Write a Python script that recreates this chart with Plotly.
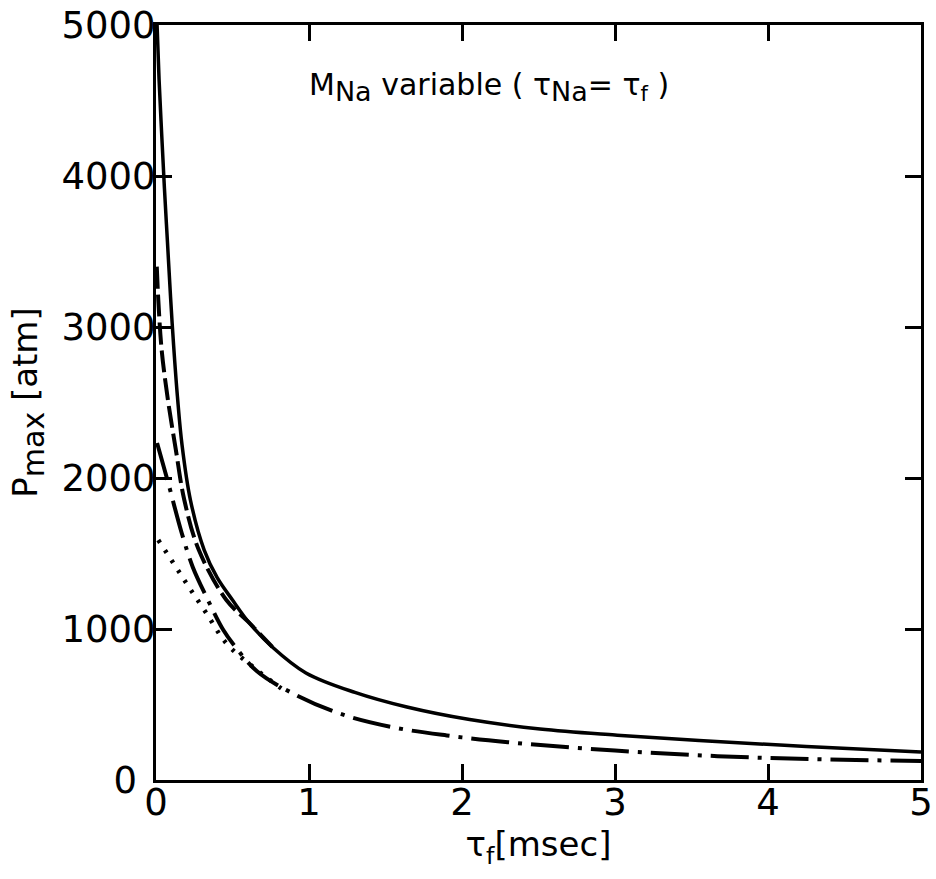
import plotly.graph_objects as go

# ---- data ----
solid_x = [0.007, 0.02, 0.037, 0.055, 0.075, 0.095, 0.115, 0.14, 0.17, 0.225, 0.315, 0.40, 0.50, 0.61, 0.76, 0.98, 1.30, 1.64, 2.05, 2.51, 3.00, 3.55, 4.25, 5.00]
solid_y = [5000, 4640, 4280, 3920, 3560, 3200, 2880, 2540, 2220, 1854, 1523, 1340, 1192, 1040, 881, 709, 580, 483, 400, 338, 298, 262, 222, 185]

dashed_x = [0.005, 0.015, 0.037, 0.078, 0.13, 0.185, 0.28, 0.46, 0.61, 0.76]
dashed_y = [3400, 3179, 2848, 2517, 2185, 1854, 1523, 1192, 1040, 881]

dashdot_x = [0.007, 0.08, 0.168, 0.24, 0.33, 0.44, 0.52, 0.66, 0.89, 1.20, 1.54, 1.90, 2.30, 3.00, 3.67, 4.30, 5.00]
dashdot_y = [2232, 1967, 1636, 1411, 1212, 993, 880, 720, 576, 440, 351, 295, 250, 195, 158, 138, 126]

dotted_x = [0.015, 0.124, 0.22, 0.33, 0.46, 0.66, 0.86]
dotted_y = [1589, 1420, 1270, 1104, 905, 728, 576]

x_ticks = [0, 1, 2, 3, 4, 5]
y_ticks = [0, 1000, 2000, 3000, 4000, 5000]
y_tick_text = ["0\u2002", "1000", "2000", "3000", "4000", "5000"]

FONT = "DejaVu Sans"

fig = go.Figure()
fig.add_trace(go.Scatter(x=dotted_x, y=dotted_y, mode="lines", line=dict(color="black", width=4.5, dash="3px,9px", shape="spline"), showlegend=False))
fig.add_trace(go.Scatter(x=dashdot_x, y=dashdot_y, mode="lines", line=dict(color="black", width=4, dash="38px,9px,4px,9px", shape="spline"), showlegend=False))
fig.add_trace(go.Scatter(x=dashed_x, y=dashed_y, mode="lines", line=dict(color="black", width=4, dash="22px,6px", shape="spline"), showlegend=False))
fig.add_trace(go.Scatter(x=solid_x, y=solid_y, mode="lines", line=dict(color="black", width=3.5, shape="spline"), showlegend=False))

fig.add_annotation(
    text="M<sub><span style='font-size:27px'>Na</span></sub> variable ( τ<sub><span style='font-size:27px'>Na</span></sub>= τ<sub>f</sub> )",
    xref="paper", yref="paper", x=0.197, y=0.918, xanchor="left", yanchor="middle",
    showarrow=False, font=dict(family=FONT, size=30, color="black"),
)

fig.update_xaxes(
    range=[0, 5], tickvals=x_ticks, ticktext=[str(v) for v in x_ticks],
    showline=True, linecolor="black", linewidth=3, mirror="ticks",
    ticks="inside", ticklen=16, tickwidth=2.5, tickcolor="black",
    showgrid=False, zeroline=False, automargin=False,
    tickfont=dict(family=FONT, size=37, color="black"), ticklabelstandoff=-12,
    ticklabeloverflow="allow",
    title=dict(text="τ<sub>f</sub>[msec]", font=dict(family=FONT, size=34, color="black"), standoff=6),
)
fig.update_yaxes(
    range=[0, 5000], tickvals=y_ticks, ticktext=y_tick_text,
    showline=True, linecolor="black", linewidth=3, mirror="ticks",
    ticks="inside", ticklen=16, tickwidth=2.5, tickcolor="black",
    showgrid=False, zeroline=False, automargin=False,
    tickfont=dict(family=FONT, size=37, color="black"), ticklabelstandoff=-10,
    ticklabeloverflow="allow",
    title=dict(text="P<sub><span style='font-size:30px'>max</span></sub> [atm]", font=dict(family=FONT, size=34, color="black"), standoff=14),
)
fig.update_layout(
    width=936, height=879, autosize=False,
    margin=dict(l=156, r=15, t=25, b=99),
    paper_bgcolor="white", plot_bgcolor="white",
)
fig.write_html(
    "out.html",
    config={"displayModeBar": False},
    post_script="document.body.style.margin='0';document.body.style.overflow='hidden';",
)
